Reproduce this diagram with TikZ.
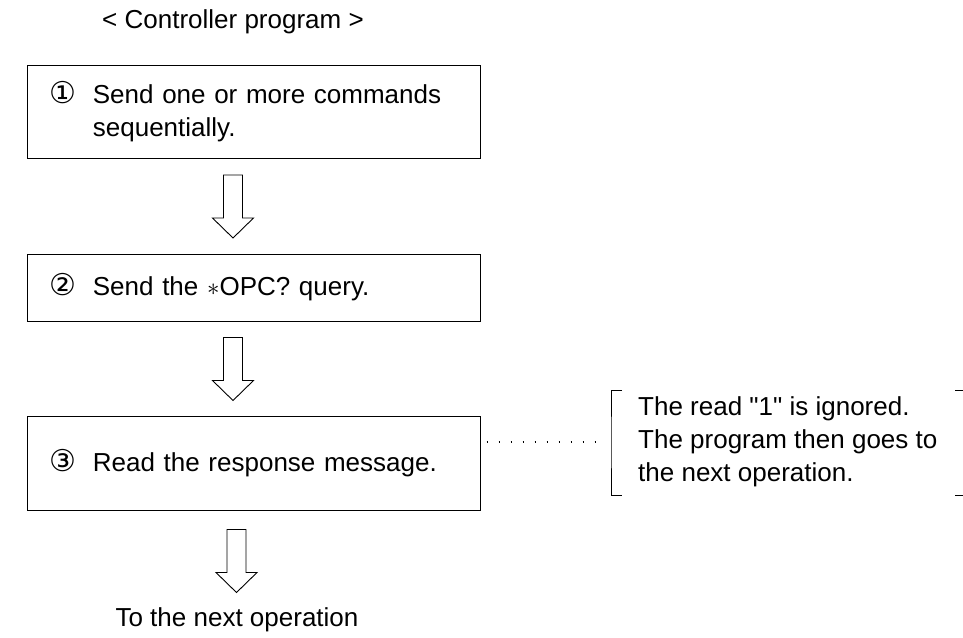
\documentclass[tikz,border=0pt]{standalone}
\usepackage{fontspec}
\setsansfont{Liberation Sans}
\newfontfamily\circfont{DejaVu Sans}
\usetikzlibrary{calc}
\newcommand{\circnum}[1]{{\circfont\fontsize{30}{30}\selectfont #1}\hspace{17pt}}
\newcommand{\hollowdown}[1]{%
  \draw[blk] #1 ++(-9.5,0) -- ++(0,43) -- ++(-11,0) -- ++(20.5,20)
    -- ++(20.5,-20) -- ++(-11,0) -- ++(0,-43) -- cycle;}
\tikzset{
  stepbox/.style={
    draw=black, line width=1pt, text width=409pt, align=left,
    inner xsep=22pt, inner ysep=0pt, minimum width=453pt
  },
  blk/.style={draw=black, line width=0.9pt, line join=miter},
  lbl/.style={inner sep=0pt},
  dots/.style={line width=1.2pt, dash pattern=on 1.2pt off 10.8pt},
  brk/.style={line width=1pt},
  every picture/.append style={font=\sffamily\fontsize{26}{33}\selectfont}
}
\begin{document}
\begin{tikzpicture}[x=1pt,y=-1pt]
  \useasboundingbox (0,0) rectangle (963,637);
  % Left column: the three steps.
  \node[lbl] (title) at (233,22) {< Controller program >};
  \node[stepbox, minimum height=93pt] (send) at (253.5,112)
    {\circnum{①}Send one or more commands\\\phantom{\circnum{①}}sequentially.};
  \node[stepbox, minimum height=67pt] (query) at (253.5,287.5)
    {\circnum{②}Send the $\ast$OPC? query.};
  \node[stepbox, minimum height=94pt] (read) at (253.5,463)
    {\circnum{③}Read the response message.};
  \node[lbl] (next) at (237,620) {To the next operation};
  \hollowdown{($(send.south -| title)+(0,16)$)}
  \hollowdown{($(query.south -| title)+(0,16)$)}
  \hollowdown{($(read.south -| title)+(3.5,19)$)}
  % Right: the remark on step 3.
  \node[lbl, anchor=west, align=left] (note) at (638,442)
    {The read \textquotedbl 1\textquotedbl{} is ignored.\\The program then goes to\\the next operation.};
  \draw[dots] ($(read.east |- note.west)+(6,0)$) -- ($(note.west)+(-38,0)$);
  \draw[brk] ($(note.west)+(-16,-52)$) -| ($(note.west)+(-27,0)$)
    |- ($(note.west)+(-16,53)$);
  \draw[brk] ($(note.west)+(317,-52)$) -- +(10,0);
  \draw[brk] ($(note.west)+(317,53)$) -- +(10,0);
\end{tikzpicture}
\end{document}
